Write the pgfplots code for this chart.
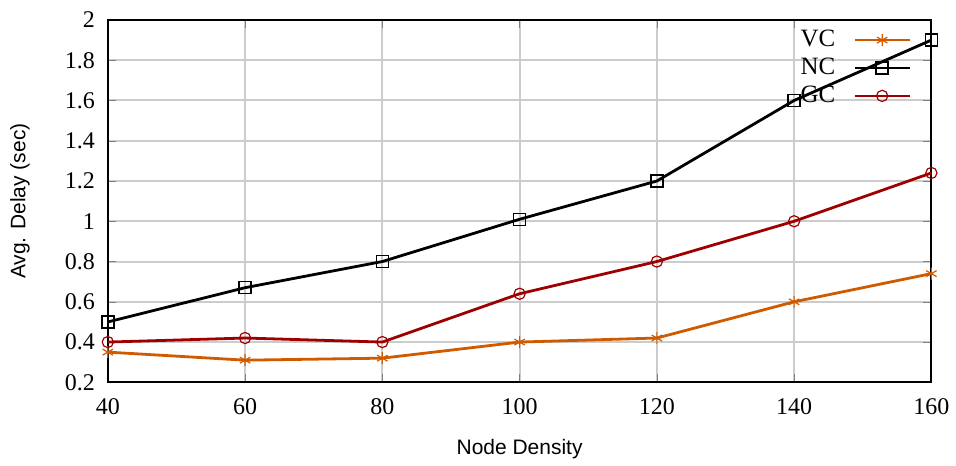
\documentclass[border=0pt]{standalone}
\usepackage{pgfplots}
\pgfplotsset{compat=1.18}
\usepackage{fontspec}
\setmainfont{Liberation Serif}
\newfontfamily\labfont{Liberation Sans}
\definecolor{vc}{HTML}{D05A00}
\definecolor{gc}{HTML}{9E0000}
\begin{document}
\begin{tikzpicture}
\begin{axis}[
  scale only axis,
  width=412.5pt, height=181.5pt,
  xmin=40, xmax=160, ymin=0.2, ymax=2,
  xtick={40,60,...,160},
  ytick={0.2,0.4,...,2.01},
  tick align=inside,
  major tick length=4pt,
  xmajorgrids, ymajorgrids,
  grid style={gray!40, line width=1pt},
  axis line style={line width=1pt},
  ticklabel style={font=\fontsize{12}{13}\selectfont},
  yticklabel style={xshift=-3pt},
  xticklabel style={yshift=-4.5pt},
  /pgf/number format/assume math mode=true,
  xlabel={\labfont\fontsize{10.5}{12}\selectfont Node Density},
  ylabel={\labfont\fontsize{10.5}{12}\selectfont Avg. Delay (sec)},
  xlabel style={at={(axis description cs:0.5,0)}, anchor=center, yshift=-33.5pt},
  ylabel style={at={(axis description cs:0,0.5)}, anchor=center, yshift=44pt},
  legend style={draw=none, fill=none, at={(1,1)}, anchor=north east,
    xshift=-10pt, yshift=-3pt, inner sep=0pt,
    font=\fontsize{12.5}{13}\selectfont, row sep=0.2pt,
    /tikz/every odd column/.append style={column sep=7pt}},
  legend plot pos=right,
  legend cell align=right,
  legend image code/.code={\draw[#1] (0pt,0pt) -- (27.5pt,0pt); \draw[#1,only marks] plot coordinates {(13.75pt,0pt)};},
]
\addplot[color=vc, line width=1.4pt, mark=asterisk, mark size=3pt, mark options={line width=0.6pt}]
  coordinates {(40,0.35) (60,0.31) (80,0.32) (100,0.40) (120,0.42) (140,0.60) (160,0.74)};
\addlegendentry{VC}
\addplot[color=black, line width=1.4pt, mark=square, mark size=3pt, mark options={line width=0.7pt}]
  coordinates {(40,0.50) (60,0.67) (80,0.80) (100,1.01) (120,1.20) (140,1.60) (160,1.90)};
\addlegendentry{NC}
\addplot[color=gc, line width=1.4pt, mark=o, mark size=2.8pt, mark options={line width=0.6pt}]
  coordinates {(40,0.40) (60,0.42) (80,0.40) (100,0.64) (120,0.80) (140,1.00) (160,1.24)};
\addlegendentry{GC}
\end{axis}
\path (current axis.south west) ++(-54pt,-41.5pt) coordinate (bbA);
\path (current axis.north east) ++(11.5pt,10pt) coordinate (bbB);
\path (bbA) (bbB);
\end{tikzpicture}
\end{document}
